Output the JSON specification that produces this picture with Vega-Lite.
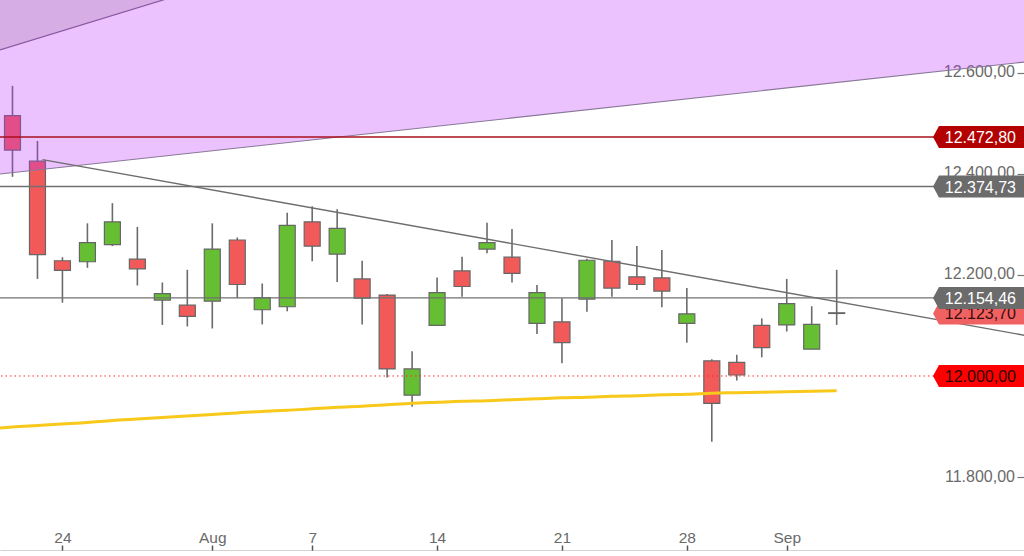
{
  "$schema": "https://vega.github.io/schema/vega-lite/v6.json",
  "width": 1024,
  "height": 551,
  "autosize": {"type": "none"},
  "padding": 0,
  "background": "white",
  "config": {
    "view": {"stroke": null},
    "font": "Liberation Sans",
    "locale": {"number": {"decimal": ",", "thousands": ".", "grouping": [3], "currency": ["", " €"]}},
    "axisX": {"grid": false, "domain": true, "domainColor": "#a8a8a8", "domainWidth": 2,
      "ticks": true, "tickSize": -6, "tickColor": "#555555", "tickWidth": 1.5,
      "labelPadding": -8, "labelBaseline": "middle", "labelColor": "#6a6a6a", "labelFontSize": 15.5,
      "labelFlush": false, "labelOverlap": false},
    "axisY": {"grid": false, "domain": false, "tickSize": -7, "tickColor": "#777777", "tickWidth": 1.2,
      "labelPadding": -2.5, "labelAlign": "right", "labelBaseline": "middle", "labelColor": "#6a6a6a",
      "labelFontSize": 16, "labelOffset": -1, "labelFlush": false, "labelOverlap": false}
  },
  "datasets": {
    "candles": [
      {"t": 0, "date": "2017-07-20", "open": 12515, "high": 12574, "low": 12394, "close": 12447},
      {"t": 1, "date": "2017-07-21", "open": 12425, "high": 12465, "low": 12192, "close": 12240},
      {"t": 2, "date": "2017-07-24", "open": 12228, "high": 12235, "low": 12145, "close": 12209},
      {"t": 3, "date": "2017-07-25", "open": 12226, "high": 12302, "low": 12214, "close": 12264},
      {"t": 4, "date": "2017-07-26", "open": 12260, "high": 12342, "low": 12257, "close": 12305},
      {"t": 5, "date": "2017-07-27", "open": 12231, "high": 12295, "low": 12179, "close": 12212},
      {"t": 6, "date": "2017-07-28", "open": 12150, "high": 12185, "low": 12101, "close": 12163},
      {"t": 7, "date": "2017-07-31", "open": 12140, "high": 12210, "low": 12098, "close": 12118},
      {"t": 8, "date": "2017-08-01", "open": 12148, "high": 12302, "low": 12094, "close": 12251},
      {"t": 9, "date": "2017-08-02", "open": 12269, "high": 12274, "low": 12154, "close": 12181},
      {"t": 10, "date": "2017-08-03", "open": 12131, "high": 12183, "low": 12102, "close": 12155},
      {"t": 11, "date": "2017-08-04", "open": 12137, "high": 12323, "low": 12128, "close": 12298},
      {"t": 12, "date": "2017-08-07", "open": 12305, "high": 12336, "low": 12227, "close": 12257},
      {"t": 13, "date": "2017-08-08", "open": 12241, "high": 12330, "low": 12186, "close": 12292},
      {"t": 14, "date": "2017-08-09", "open": 12192, "high": 12228, "low": 12102, "close": 12154},
      {"t": 15, "date": "2017-08-10", "open": 12160, "high": 12162, "low": 11997, "close": 12014},
      {"t": 16, "date": "2017-08-11", "open": 11962, "high": 12049, "low": 11939, "close": 12014},
      {"t": 17, "date": "2017-08-14", "open": 12100, "high": 12195, "low": 12100, "close": 12165},
      {"t": 18, "date": "2017-08-15", "open": 12208, "high": 12236, "low": 12157, "close": 12177},
      {"t": 19, "date": "2017-08-16", "open": 12251, "high": 12303, "low": 12243, "close": 12264},
      {"t": 20, "date": "2017-08-17", "open": 12235, "high": 12291, "low": 12185, "close": 12203},
      {"t": 21, "date": "2017-08-18", "open": 12104, "high": 12180, "low": 12083, "close": 12165},
      {"t": 22, "date": "2017-08-21", "open": 12107, "high": 12154, "low": 12025, "close": 12066},
      {"t": 23, "date": "2017-08-22", "open": 12152, "high": 12232, "low": 12127, "close": 12229},
      {"t": 24, "date": "2017-08-23", "open": 12227, "high": 12269, "low": 12157, "close": 12174},
      {"t": 25, "date": "2017-08-24", "open": 12196, "high": 12257, "low": 12170, "close": 12181},
      {"t": 26, "date": "2017-08-25", "open": 12194, "high": 12249, "low": 12136, "close": 12168},
      {"t": 27, "date": "2017-08-28", "open": 12104, "high": 12174, "low": 12066, "close": 12123},
      {"t": 28, "date": "2017-08-29", "open": 12030, "high": 12033, "low": 11870, "close": 11946},
      {"t": 29, "date": "2017-08-30", "open": 12027, "high": 12042, "low": 11991, "close": 12002},
      {"t": 30, "date": "2017-08-31", "open": 12100, "high": 12114, "low": 12037, "close": 12056},
      {"t": 31, "date": "2017-09-01", "open": 12101, "high": 12192, "low": 12088, "close": 12143},
      {"t": 32, "date": "2017-09-04", "open": 12053, "high": 12138, "low": 12053, "close": 12102},
      {"t": 33, "date": "2017-09-05", "open": 12125, "high": 12210, "low": 12101, "close": 12123.7}
    ],
    "ma": [
      {"t": -0.5, "ma": 11897}, {"t": 0, "ma": 11899}, {"t": 1, "ma": 11902}, {"t": 2, "ma": 11905},
      {"t": 3, "ma": 11908}, {"t": 4, "ma": 11912}, {"t": 5, "ma": 11915}, {"t": 6, "ma": 11918},
      {"t": 7, "ma": 11921}, {"t": 8, "ma": 11924}, {"t": 9, "ma": 11927}, {"t": 10, "ma": 11930},
      {"t": 11, "ma": 11932}, {"t": 12, "ma": 11935}, {"t": 13, "ma": 11938}, {"t": 14, "ma": 11940},
      {"t": 15, "ma": 11943}, {"t": 16, "ma": 11946}, {"t": 17, "ma": 11948}, {"t": 18, "ma": 11950},
      {"t": 19, "ma": 11951}, {"t": 20, "ma": 11953}, {"t": 21, "ma": 11955}, {"t": 22, "ma": 11957},
      {"t": 23, "ma": 11958}, {"t": 24, "ma": 11960}, {"t": 25, "ma": 11961}, {"t": 26, "ma": 11963},
      {"t": 27, "ma": 11964}, {"t": 28, "ma": 11966}, {"t": 29, "ma": 11967}, {"t": 30, "ma": 11968},
      {"t": 31, "ma": 11969}, {"t": 32, "ma": 11970}, {"t": 33, "ma": 11971}
    ],
    "levels": [
      {"value": 12123.70, "kind": "last"},
      {"value": 12472.80, "kind": "high"},
      {"value": 12374.73, "kind": "level"},
      {"value": 12154.46, "kind": "level"},
      {"value": 12000.00, "kind": "mark"}
    ],
    "trend": [{"t": 1.2, "price": 12428}, {"t": 42, "price": 12067.5}],
    "channel": [{"t": -0.5, "price": 12399.6}, {"t": 40.5, "price": 12621}],
    "upper": [{"t": -0.5, "price": 12645}, {"t": 10, "price": 12804}]
  },
  "layer": [
    {
      "data": {"name": "candles"},
      "mark": {"type": "rule", "color": "#6b6b6b", "strokeWidth": 1.6},
      "encoding": {
        "x": {"field": "t", "type": "quantitative", "title": null,
          "scale": {"domain": [-0.5, 40.5], "nice": false, "zero": false, "padding": 0},
          "axis": {"orient": "bottom", "values": [2, 8, 12, 17, 22, 27, 31], "title": null,
            "labelExpr": "datum.value==2?'24':datum.value==8?'Aug':datum.value==12?'7':datum.value==17?'14':datum.value==22?'21':datum.value==27?'28':'Sep'"}},
        "y": {"field": "low", "type": "quantitative", "title": null,
          "scale": {"domain": [11653.8, 12743.8], "nice": false, "zero": false, "padding": 0},
          "axis": {"orient": "right", "values": [11800, 12000, 12200, 12400, 12600], "format": ",.2f", "title": null}},
        "y2": {"field": "high"}
      }
    },
    {
      "data": {"name": "candles"},
      "mark": {"type": "bar", "orient": "vertical", "width": 16, "stroke": "#666666", "strokeWidth": 1.2},
      "encoding": {
        "x": {"field": "t", "type": "quantitative", "title": null},
        "y": {"field": "open", "type": "quantitative", "title": null},
        "y2": {"field": "close"},
        "fill": {"condition": {"test": "datum.close < datum.open", "value": "#f25a5a"}, "value": "#66bf33"}
      }
    },
    {
      "data": {"name": "ma"},
      "mark": {"type": "line", "color": "#f8c81a", "strokeWidth": 3, "interpolate": "monotone"},
      "encoding": {
        "x": {"field": "t", "type": "quantitative", "title": null},
        "y": {"field": "ma", "type": "quantitative", "title": null}
      }
    },
    {
      "data": {"name": "channel"},
      "mark": {"type": "area", "orient": "vertical", "color": "#bc35f8", "opacity": 0.3, "clip": true},
      "encoding": {
        "x": {"field": "t", "type": "quantitative", "title": null},
        "y": {"field": "price", "type": "quantitative", "title": null},
        "y2": {"datum": 12950}
      }
    },
    {
      "data": {"name": "upper"},
      "mark": {"type": "area", "orient": "vertical", "color": "#a57fb0", "opacity": 0.3, "clip": true},
      "encoding": {
        "x": {"field": "t", "type": "quantitative", "title": null},
        "y": {"field": "price", "type": "quantitative", "title": null},
        "y2": {"datum": 12950}
      }
    },
    {
      "data": {"name": "channel"},
      "mark": {"type": "line", "color": "#8a7898", "strokeWidth": 1.2, "clip": true},
      "encoding": {
        "x": {"field": "t", "type": "quantitative", "title": null},
        "y": {"field": "price", "type": "quantitative", "title": null}
      }
    },
    {
      "data": {"name": "upper"},
      "mark": {"type": "line", "color": "#8a5aa0", "strokeWidth": 1.2, "clip": true},
      "encoding": {
        "x": {"field": "t", "type": "quantitative", "title": null},
        "y": {"field": "price", "type": "quantitative", "title": null}
      }
    },
    {
      "data": {"name": "levels"},
      "transform": [{"filter": "datum.kind == 'high'"}],
      "mark": {"type": "rule", "color": "#a8101c", "strokeWidth": 1.6},
      "encoding": {
        "y": {"field": "value", "type": "quantitative", "title": null}
      }
    },
    {
      "data": {"name": "levels"},
      "transform": [{"filter": "datum.kind == 'level'"}],
      "mark": {"type": "rule", "color": "#707070", "strokeWidth": 1.4},
      "encoding": {
        "y": {"field": "value", "type": "quantitative", "title": null}
      }
    },
    {
      "data": {"name": "levels"},
      "transform": [{"filter": "datum.kind == 'mark'"}],
      "mark": {"type": "rule", "color": "#ff2a2a", "strokeWidth": 1, "strokeDash": [1.5, 3]},
      "encoding": {
        "y": {"field": "value", "type": "quantitative", "title": null}
      }
    },
    {
      "data": {"name": "trend"},
      "mark": {"type": "line", "color": "#6e6e6e", "strokeWidth": 1.4, "clip": true},
      "encoding": {
        "x": {"field": "t", "type": "quantitative", "title": null},
        "y": {"field": "price", "type": "quantitative", "title": null}
      }
    },
    {
      "data": {"name": "levels"},
      "transform": [{"filter": "datum.kind == 'last'"}],
      "mark": {"type": "point", "shape": "M0,-1L-7.73,-1L-8.27,0L-7.73,1L0,1Z", "size": 484, "filled": true, "opacity": 1, "strokeWidth": 0},
      "encoding": {
        "x": {"datum": 40.5, "type": "quantitative", "title": null},
        "y": {"field": "value", "type": "quantitative", "title": null},
        "color": {"value": "#f06262"}
      }
    },
    {
      "data": {"name": "levels"},
      "transform": [{"filter": "datum.kind == 'last'"}],
      "mark": {"type": "text", "align": "right", "baseline": "middle", "dx": -8, "dy": 1, "fontSize": 16},
      "encoding": {
        "x": {"datum": 40.5, "type": "quantitative", "title": null},
        "y": {"field": "value", "type": "quantitative", "title": null},
        "text": {"field": "value", "type": "quantitative", "format": ",.2f"},
        "color": {"value": "#3a0c0c"}
      }
    },
    {
      "data": {"name": "levels"},
      "transform": [{"filter": "datum.kind != 'last'"}],
      "mark": {"type": "point", "shape": "M0,-1L-7.73,-1L-8.27,0L-7.73,1L0,1Z", "size": 484, "filled": true, "opacity": 1, "strokeWidth": 0},
      "encoding": {
        "x": {"datum": 40.5, "type": "quantitative", "title": null},
        "y": {"field": "value", "type": "quantitative", "title": null},
        "color": {"condition": [
          {"test": "datum.kind == 'high'", "value": "#b30000"},
          {"test": "datum.kind == 'mark'", "value": "#ff0000"}
        ], "value": "#6b6b6b"}
      }
    },
    {
      "data": {"name": "levels"},
      "transform": [{"filter": "datum.kind != 'last'"}],
      "mark": {"type": "text", "align": "right", "baseline": "middle", "dx": -8, "dy": 1, "fontSize": 16},
      "encoding": {
        "x": {"datum": 40.5, "type": "quantitative", "title": null},
        "y": {"field": "value", "type": "quantitative", "title": null},
        "text": {"field": "value", "type": "quantitative", "format": ",.2f"},
        "color": {"condition": {"test": "datum.kind == 'mark'", "value": "#2a0606"}, "value": "#ffffff"}
      }
    }
  ]
}
